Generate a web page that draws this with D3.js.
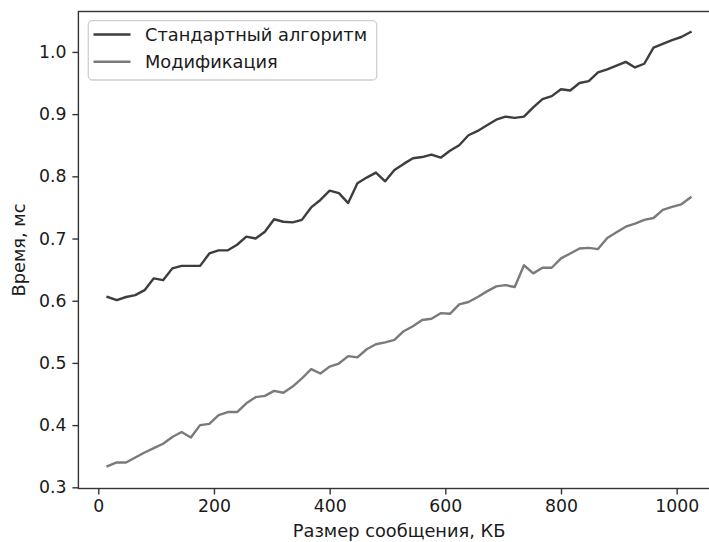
<!DOCTYPE html>
<html>
<head>
<meta charset="utf-8">
<script src="https://cdn.jsdelivr.net/npm/d3@7"></script>
<style>
  html, body { margin: 0; padding: 0; background: #fff; }
  svg { display: block; }
  text { font-family: "DejaVu Sans", sans-serif; }
</style>
</head>
<body>
<svg id="chart" width="709" height="542"></svg>
<script>
// ---- data ----
const sizesKB = d3.range(1, 65).map(i => i * 16);
const standard = [
  0.606, 0.601, 0.606, 0.609, 0.617, 0.636, 0.633, 0.652, 0.656, 0.656,
  0.656, 0.676, 0.681, 0.681, 0.690, 0.703, 0.700, 0.711, 0.731, 0.727,
  0.726, 0.730, 0.750, 0.762, 0.777, 0.773, 0.757, 0.789, 0.798, 0.806,
  0.792, 0.810, 0.820, 0.829, 0.831, 0.835, 0.830, 0.841, 0.850, 0.866,
  0.873, 0.882, 0.891, 0.896, 0.894, 0.896, 0.911, 0.924, 0.929, 0.940,
  0.938, 0.950, 0.953, 0.967, 0.972, 0.978, 0.984, 0.975, 0.981, 1.007,
  1.013, 1.019, 1.024, 1.032
];
const modified = [
  0.334, 0.340, 0.340, 0.348, 0.356, 0.363, 0.370, 0.381, 0.389, 0.380,
  0.400, 0.402, 0.416, 0.421, 0.421, 0.435, 0.445, 0.447, 0.455, 0.452,
  0.462, 0.475, 0.490, 0.483, 0.494, 0.499, 0.511, 0.509, 0.522, 0.530,
  0.533, 0.537, 0.551, 0.559, 0.569, 0.571, 0.580, 0.579, 0.594, 0.598,
  0.606, 0.615, 0.623, 0.625, 0.622, 0.657, 0.644, 0.653, 0.653, 0.668,
  0.676, 0.684, 0.685, 0.683, 0.701, 0.710, 0.719, 0.724, 0.730, 0.733,
  0.746, 0.751, 0.755, 0.766
];
const seriesNames = ["Стандартный алгоритм", "Модификация"];
const xTicks = [0, 200, 400, 600, 800, 1000];
const yTicks = [0.3, 0.4, 0.5, 0.6, 0.7, 0.8, 0.9, 1.0];
const xLabel = "Размер сообщения, КБ";
const yLabel = "Время, мс";

// ---- layout ----
const svg = d3.select("#chart");
const pLeft = 78.4, pRight = 719.7, pTop = 11.5, pBottom = 488.5;
const x = d3.scaleLinear().domain([-34.4, 1074.4]).range([pLeft, pRight]);
const y = d3.scaleLinear().domain([0.2981, 1.065]).range([pBottom, pTop]);
const colors = ["#3d3d3d", "#7a7a7a"];
const tickFont = 17.3;
const labelFont = 17.8;

// lines
const line = d3.line().x((d, i) => x(sizesKB[i])).y(d => y(d));
[standard, modified].forEach((s, k) => {
  svg.append("path")
    .datum(s)
    .attr("d", line)
    .attr("fill", "none")
    .attr("stroke", colors[k])
    .attr("stroke-width", 2.4)
    .attr("stroke-linejoin", "round")
    .attr("stroke-linecap", "square");
});

// frame
svg.append("rect")
  .attr("x", pLeft).attr("y", pTop)
  .attr("width", pRight - pLeft).attr("height", pBottom - pTop)
  .attr("fill", "none").attr("stroke", "#333").attr("stroke-width", 1.4);

// axes
const xAxis = d3.axisBottom(x).tickValues(xTicks).tickSize(6).tickPadding(5)
  .tickFormat(d3.format("d"));
const gx = svg.append("g").attr("transform", `translate(0,${pBottom})`).call(xAxis);
const yAxis = d3.axisLeft(y).tickValues(yTicks).tickSize(6).tickPadding(6)
  .tickFormat(d3.format(".1f"));
const gy = svg.append("g").attr("transform", `translate(${pLeft},0)`).call(yAxis);
[gx, gy].forEach(g => {
  g.select(".domain").remove();
  g.selectAll(".tick line").attr("stroke", "#333").attr("stroke-width", 1.4);
  g.selectAll(".tick text")
    .attr("fill", "#1a1a1a")
    .style("font-family", "'DejaVu Sans', sans-serif")
    .style("font-size", tickFont + "px");
});

// axis labels
svg.append("text")
  .attr("x", (pLeft + pRight) / 2).attr("y", 536.5)
  .attr("text-anchor", "middle")
  .attr("fill", "#1a1a1a")
  .style("font-size", labelFont + "px")
  .text(xLabel);
svg.append("text")
  .attr("transform", `translate(25,${(pTop + pBottom) / 2}) rotate(-90)`)
  .attr("text-anchor", "middle")
  .attr("fill", "#1a1a1a")
  .style("font-size", labelFont + "px")
  .text(yLabel);

// legend
const lg = svg.append("g");
lg.append("rect")
  .attr("x", 88.3).attr("y", 20.7)
  .attr("width", 376.7 - 88.3).attr("height", 80 - 20.7)
  .attr("rx", 4).attr("ry", 4)
  .attr("fill", "#fff").attr("fill-opacity", 0.8)
  .attr("stroke", "#d0d0d0").attr("stroke-width", 1.3);
seriesNames.forEach((name, k) => {
  const yy = 34.5 + k * 27.3;
  lg.append("line")
    .attr("x1", 93.5).attr("x2", 130.5)
    .attr("y1", yy).attr("y2", yy)
    .attr("stroke", colors[k]).attr("stroke-width", 2.4);
  lg.append("text")
    .attr("x", 145).attr("y", yy)
    .attr("dy", "0.36em")
    .attr("fill", "#1a1a1a")
    .style("font-size", labelFont + "px")
    .text(name);
});
</script>
</body>
</html>
